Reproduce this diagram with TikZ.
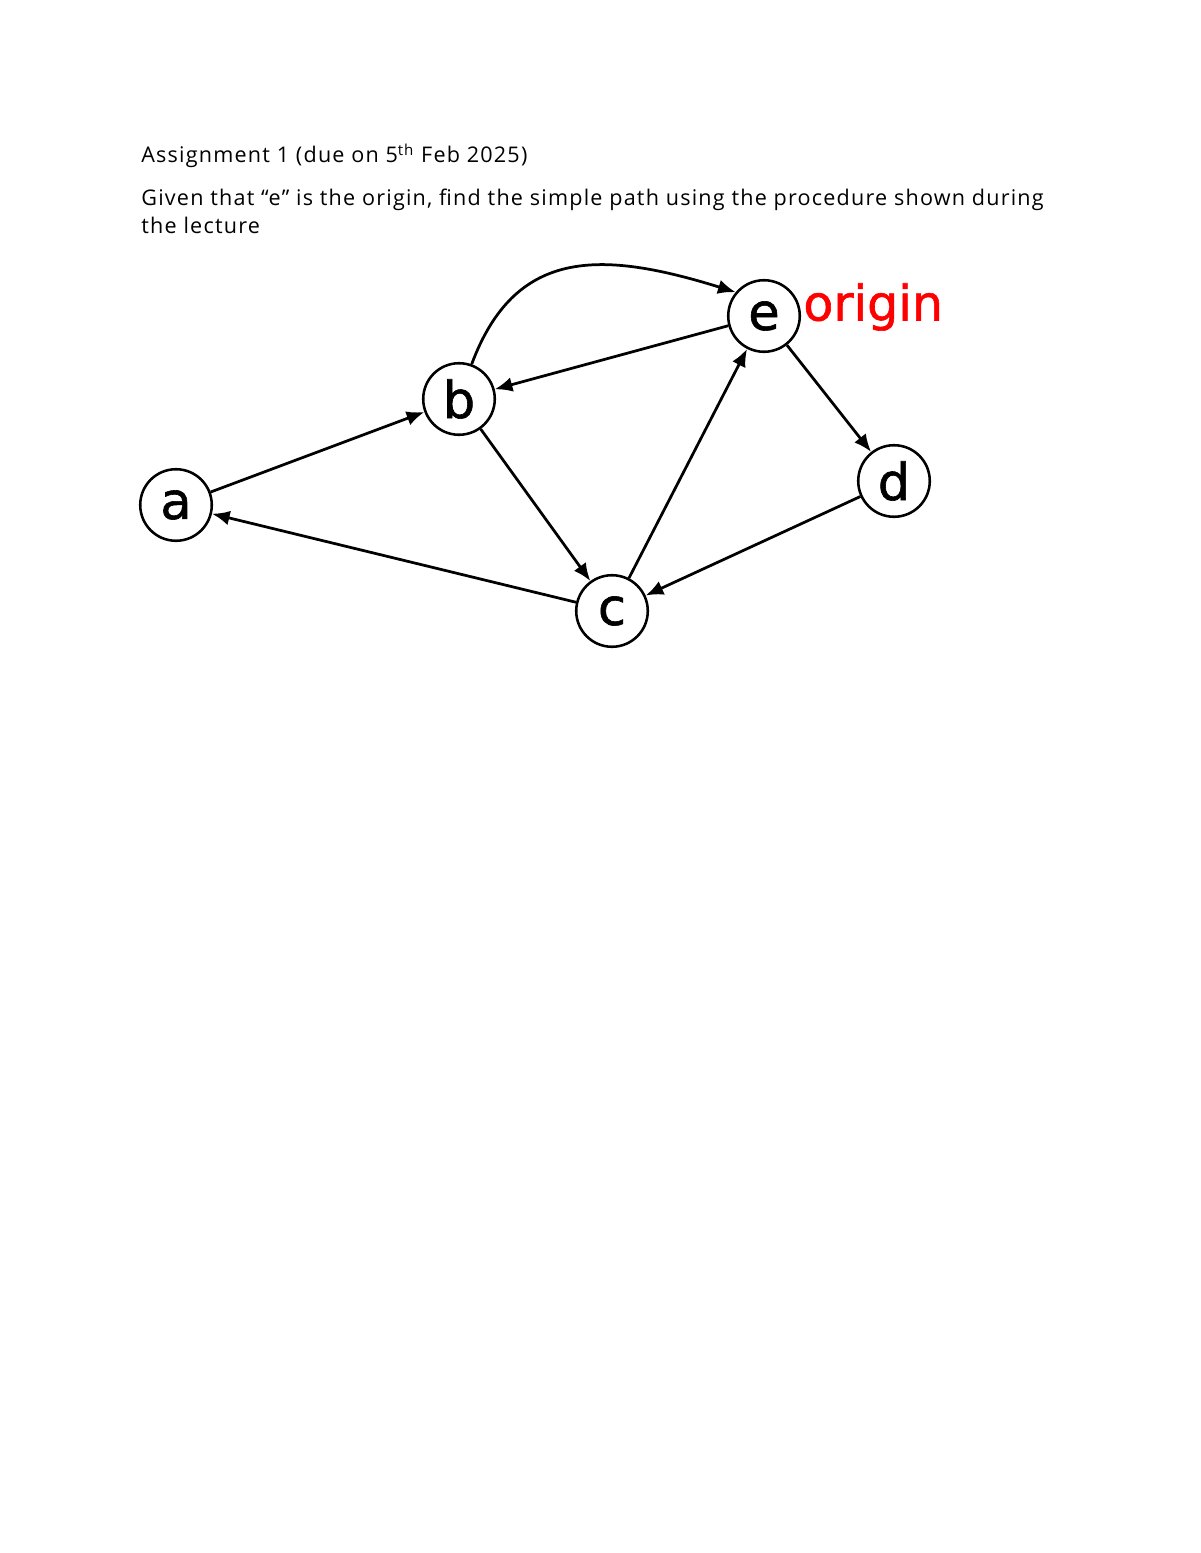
\documentclass[tikz,border=0pt]{standalone}
\usepackage{fontspec}
\setmainfont[LetterSpace=5.6]{Open Sans}
\newfontfamily\graphfont[FakeBold=1.2]{DejaVu Sans}
\usetikzlibrary{arrows.meta}
\tikzset{
  vertex/.style={circle,draw=black,line width=1.3pt,minimum size=36.5pt,inner sep=0pt,
    font=\graphfont\fontsize{26}{30}\selectfont},
  edge/.style={line width=1.4pt,-{Latex[length=9pt,width=7.5pt]}},
  txt/.style={anchor=base west,inner sep=0pt,font=\fontsize{11}{13}\selectfont}
}
\begin{document}
\begin{tikzpicture}[x=0.51pt,y=-0.51pt]
\useasboundingbox[fill=white] (0,0) rectangle (1200,1553);
\node[txt] (t1) at (141,163) {Assignment 1 (due on 5\textsuperscript{th} Feb 2025)};
\node[txt] (t2) at (141,206) {Given that “e” is the origin, find the simple path using the procedure shown during};
\node[txt] (t3) at (141,234) {the lecture};
\node[vertex] (a) at (176,505) {a};
\node[vertex] (b) at (459,399) {b};
\node[vertex] (c) at (612,611) {c};
\node[vertex] (e) at (764,316) {e};
\node[vertex] (d) at (894,481) {d};
\node[anchor=west,inner sep=0pt,text=red,font=\graphfont\fontsize{25}{30}\selectfont] (o) at (803,307) {origin};
\draw[edge] (b.70) .. controls (515,248) and (600,250) .. (e.140);
\draw[edge] (e) -- (b);
\draw[edge] (a) -- (b);
\draw[edge] (b) -- (c);
\draw[edge] (c) -- (a);
\draw[edge] (c) -- (e);
\draw[edge] (e) -- (d);
\draw[edge] (d) -- (c);
\end{tikzpicture}
\end{document}
